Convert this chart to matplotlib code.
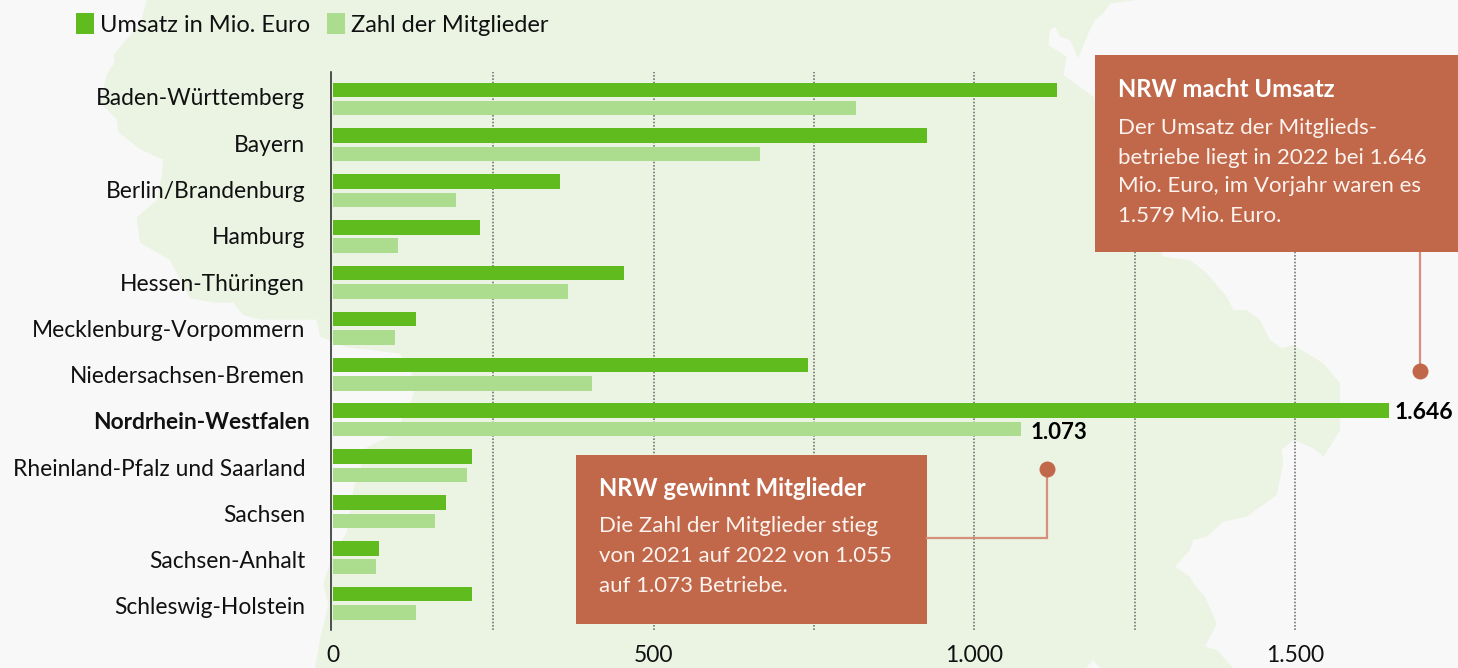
import matplotlib
matplotlib.use("Agg")
import matplotlib.pyplot as plt
from matplotlib.patches import Polygon, Rectangle
from matplotlib.transforms import ScaledTranslation

categories = ["Baden-Württemberg", "Bayern", "Berlin/Brandenburg", "Hamburg",
              "Hessen-Thüringen", "Mecklenburg-Vorpommern", "Niedersachsen-Bremen",
              "Nordrhein-Westfalen", "Rheinland-Pfalz und Saarland", "Sachsen",
              "Sachsen-Anhalt", "Schleswig-Holstein"]
umsatz = [1129, 927, 354, 229, 454, 129, 741, 1646, 217, 176, 72, 217]
mitglieder = [816, 666, 192, 101, 367, 97, 404, 1073, 209, 159, 67, 129]
major_ticks = [0, 500, 1000, 1500]
major_labels = ["0", "500", "1.000", "1.500"]
minor_ticks = [250, 750, 1250]

BG = "#f8f8f8"
MAP = "#ebf4e3"
DARK = "#60bb1e"
LIGHT = "#acdd8e"
BOX = "#c1674a"
LINE = "#d58f7a"
TXT = "#111111"
W, H = 1458, 668
plt.rcParams["font.family"] = ["Lato", "DejaVu Sans"]

fig = plt.figure(figsize=(W / 100, H / 100), dpi=100, facecolor=BG)

# decorative map silhouette, figure pixel space
bg = fig.add_axes([0, 0, 1, 1], zorder=0)
bg.set_xlim(0, W); bg.set_ylim(H, 0); bg.axis("off")
left = [(440,0),(420,60),(370,100),(340,130),(345,145),(320,175),(300,240),(350,280),(355,310),
        (420,350),(490,375),(485,415),(470,470),(410,510),(420,570),(510,610),(530,640),(570,700),
        (640,710),(700,710),(730,740),(780,750),(950,750),(960,790),(1040,815),(1150,825),(1200,830),
        (1250,900),(1230,950),(1180,1020),(1100,1050),(1060,1150),(1040,1250),(1000,1300),(970,1370),
        (985,1420),(960,1500),(945,1568)]
left = [(x / 3, y / 2.347) for x, y in left]
lower = [(820,864),(770,810),(735,800),(770,730),(735,650),(700,610),(690,590),(645,560),(690,510),
         (700,480),(740,470),(790,425),(860,410),(950,345),(970,250),(965,210),(1000,180),(1060,205),
         (1090,230),(1110,200),(1140,150),(1140,40)]
lower = [(960 + x / 3, 380 + y / 3) for x, y in lower]
upper = [(1140,1150),(1090,1090),(1000,1035),(965,1045),(930,1020),(900,960),(860,930),(820,930),
         (800,890),(740,820),(690,780),(610,770),(400,290),(310,225),(320,170),(265,135),(270,90),
         (285,80),(300,110),(330,120),(355,175),(385,100),(405,60),(430,40),(450,10),(530,0)]
upper = [(960 + x / 3, y / 3) for x, y in upper]
bg.add_patch(Polygon(left + lower + upper, closed=True, fc=MAP, ec="none"))
bg.add_patch(Polygon([(1086, H), (1093, 660), (1100, H)], closed=True, fc=BG, ec="none"))

# chart
ax = fig.add_axes([332.8 / W, 1 - 630 / H, (W - 332.8) / W, (630 - 72) / H], zorder=1)
ax.patch.set_alpha(0)
PX_X = 0.6414
PX_Y = 45.85
ax.set_xlim(0, (W - 332.8) / PX_X)
ax.set_ylim((630 - 99) / PX_Y, (72 - 99) / PX_Y)
ypos = list(range(len(categories)))
h = 14.5 / PX_Y
off = 9.2 / PX_Y
b1 = ax.barh([y - off for y in ypos], umsatz, height=h, color=DARK, zorder=3, label="Umsatz in Mio. Euro")
b2 = ax.barh([y + off for y in ypos], mitglieder, height=h, color=LIGHT, zorder=3, label="Zahl der Mitglieder")

ax.set_xticks(major_ticks, major_labels)
ax.set_xticks(minor_ticks, minor=True)
ax.tick_params(axis="x", which="both", length=0, pad=11, labelsize=16.5, labelcolor=TXT)
ax.grid(True, axis="x", which="both", color="#777777", lw=1.2, ls=(0, (1, 1)), zorder=1)
ax.xaxis.get_major_ticks()[0].gridline.set_visible(False)
ax.set_axisbelow(True)
label_pos = [(97 + 46.27 * y - 99) / PX_Y for y in ypos]
ax.set_yticks(label_pos, categories)
ax.tick_params(axis="y", length=0, pad=19, labelsize=16.35, labelcolor=TXT)
for s in ["top", "right", "bottom"]:
    ax.spines[s].set_visible(False)
ax.spines["left"].set_color("#222222")
ax.spines["left"].set_linewidth(1.1)
ax.spines["left"].set_position(("outward", 1))

nrw = categories.index("Nordrhein-Westfalen")
lab = ax.get_yticklabels()[nrw]
lab.set_fontweight("bold")
lab.set_transform(lab.get_transform() + ScaledTranslation(4.5 / 100, 0, fig.dpi_scale_trans))

ax.annotate("1.646", (umsatz[nrw], nrw - off), xytext=(4.5, -1.5), textcoords="offset points",
            va="center", ha="left", fontsize=16.5, fontweight="bold", color="#000000", zorder=5)
ax.annotate("1.073", (mitglieder[nrw], nrw + off), xytext=(6.5, -2.7), textcoords="offset points",
            va="center", ha="left", fontsize=16, fontweight="bold", color="#000000", zorder=5)

fig.legend(handles=[b1, b2], loc="upper left", bbox_to_anchor=(76 / W, 1 - 13 / H), ncols=2, frameon=False,
           fontsize=17, handlelength=0.75, handleheight=1.0, handletextpad=0.25, columnspacing=0.75,
           borderpad=0, borderaxespad=0, labelcolor=TXT)

# annotation layer, figure pixel space
top = fig.add_axes([0, 0, 1, 1], zorder=2)
top.set_xlim(0, W); top.set_ylim(H, 0); top.axis("off")
top.plot([1420, 1420], [252, 371], color=LINE, lw=1.6, solid_capstyle="butt")
top.plot([1047, 1047, 927], [469, 538, 538], color=LINE, lw=1.6, solid_joinstyle="miter")
top.plot([1420, 1047], [371, 469], ls="none", marker="o", ms=11.5, color=BOX, mec="none")
top.add_patch(Rectangle((1095, 55), 363, 197, fc=BOX, ec="none"))
top.add_patch(Rectangle((576, 455), 351, 169, fc=BOX, ec="none"))

def box_text(x, y_head, head, y_lines, lines):
    top.text(x, y_head, head, color="white", fontsize=17.2, fontweight="bold", va="center", ha="left")
    for y, s in zip(y_lines, lines):
        top.text(x, y, s, color="#fdf3ee", fontsize=16, va="center", ha="left")

box_text(1118, 89.5, "NRW macht Umsatz", [127.5, 157.5, 186.5, 215.5],
         ["Der Umsatz der Mitglieds-", "betriebe liegt in 2022 bei 1.646",
          "Mio. Euro, im Vorjahr waren es", "1.579 Mio. Euro."])
box_text(599, 488.5, "NRW gewinnt Mitglieder", [526.5, 556.5, 585.5],
         ["Die Zahl der Mitglieder stieg", "von 2021 auf 2022 von 1.055", "auf 1.073 Betriebe."])

fig.savefig("out.png", dpi=100, facecolor=BG)
